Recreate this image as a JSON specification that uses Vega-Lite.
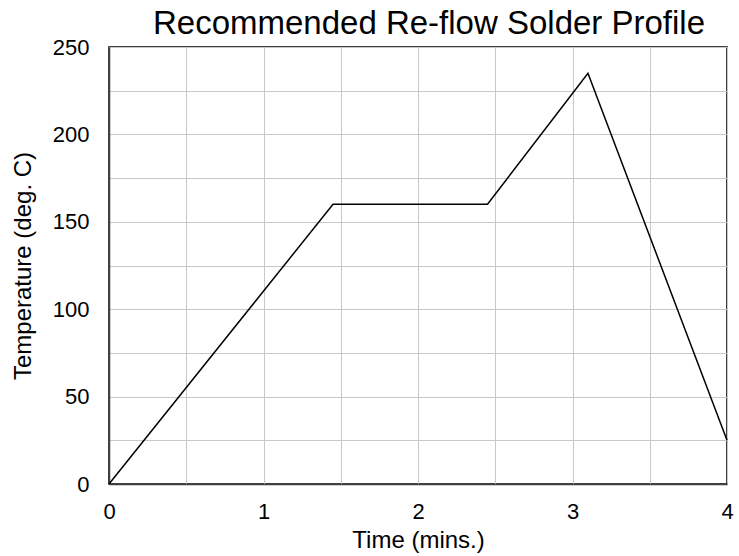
{
  "$schema": "https://vega.github.io/schema/vega-lite/v6.json",
  "width": 618,
  "height": 437,
  "autosize": {"type": "none"},
  "padding": {"left": 109, "top": 47, "right": 12, "bottom": 72},
  "background": "white",
  "title": {"text": "Recommended Re-flow Solder Profile", "font": "Liberation Sans", "fontSize": 33, "fontWeight": "normal", "color": "#000000", "offset": -31, "baseline": "alphabetic", "dx": 11},
  "config": {
    "view": {"stroke": "#000000", "strokeWidth": 1.5},
    "axis": {"labelFont": "Liberation Sans", "titleFont": "Liberation Sans", "labelFontSize": 22, "titleFontSize": 24, "titleFontWeight": "normal", "labelColor": "#000000", "titleColor": "#000000", "gridColor": "#c8c8c8", "gridWidth": 1, "domainColor": "#404040", "domainWidth": 1.5, "ticks": false}
  },
  "data": {"values": [
    {"t": 0, "temp": 0},
    {"t": 1.45, "temp": 160},
    {"t": 2.45, "temp": 160},
    {"t": 3.1, "temp": 235},
    {"t": 4, "temp": 25}
  ]},
  "mark": {"type": "line", "color": "#000000", "strokeWidth": 1.5},
  "encoding": {
    "x": {"field": "t", "type": "quantitative", "title": "Time (mins.)",
      "scale": {"domain": [0, 4], "nice": false},
      "axis": {"values": [0, 0.5, 1, 1.5, 2, 2.5, 3, 3.5, 4], "labelExpr": "datum.value % 1 === 0 ? format(datum.value, 'd') : ''", "labelPadding": 17, "titlePadding": 6, "labelFlush": false}},
    "y": {"field": "temp", "type": "quantitative", "title": "Temperature (deg. C)",
      "scale": {"domain": [0, 250], "nice": false},
      "axis": {"values": [0, 25, 50, 75, 100, 125, 150, 175, 200, 225, 250], "labelExpr": "datum.value % 50 === 0 ? format(datum.value, 'd') : ''", "labelPadding": 20, "titlePadding": 17}}
  }
}
